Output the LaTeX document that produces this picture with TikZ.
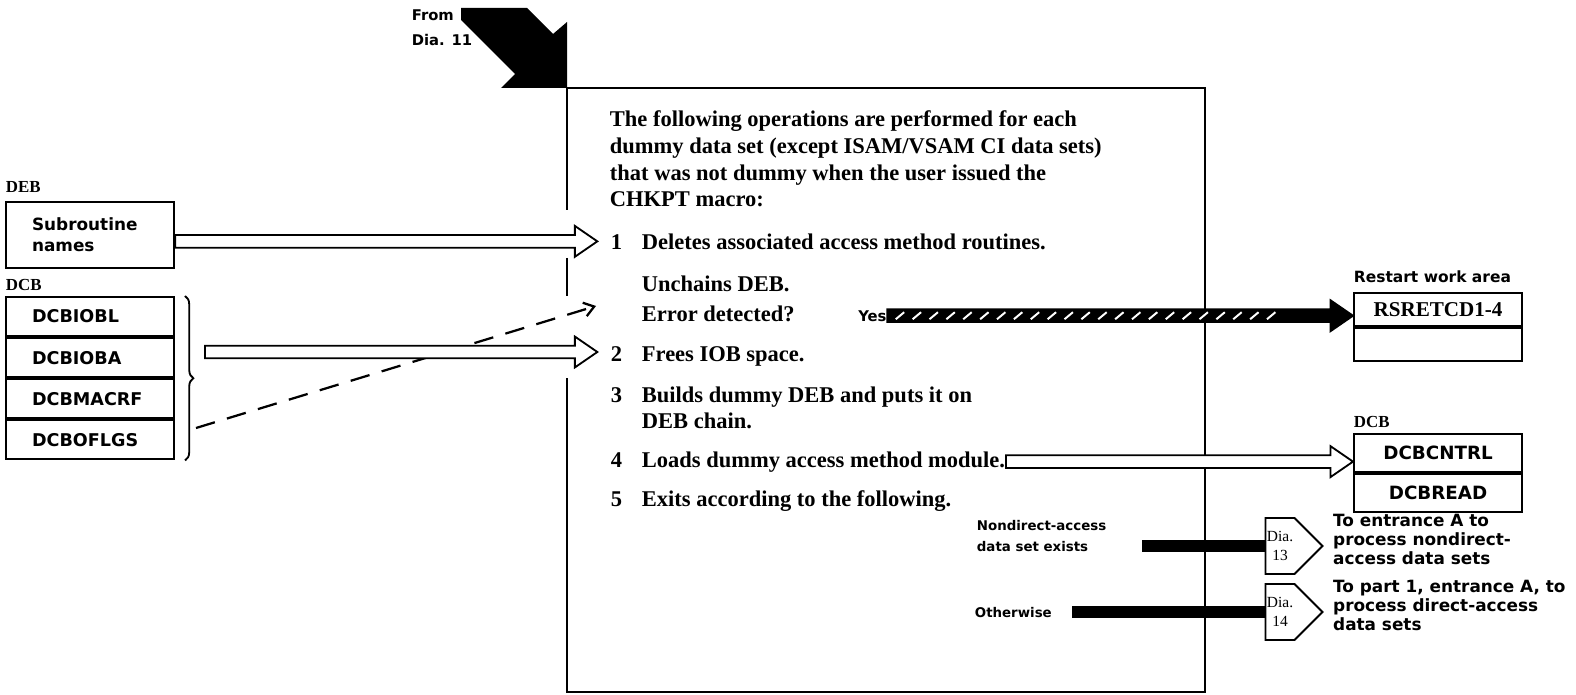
\documentclass[tikz,border=0pt]{standalone}
\usepackage{fontspec}
\setmainfont{Liberation Serif}
\setsansfont{DejaVu Sans}
\usetikzlibrary{arrows.meta, positioning, calc, shapes.symbols, decorations.pathreplacing}

% horizontal block arrow from #2 to #3
\newcommand{\blockarrow}[3][fill=white]{%
  \draw[line width=1.3pt, line join=miter, #1] let \p1=(#2), \p2=(#3) in
    (\x1,\y1+4.5pt) -- (\x2-16pt,\y1+4.5pt) -- (\x2-16pt,\y1+11pt) -- (\x2,\y1)
    -- (\x2-16pt,\y1-11pt) -- (\x2-16pt,\y1-4.5pt) -- (\x1,\y1-4.5pt) -- cycle;}

\begin{document}
\begin{tikzpicture}[
    x=0.025cm, y=-0.025cm, line width=1.3pt,
    boxtext/.style={font=\bfseries\fontsize{16}{19.1}\selectfont, inner sep=0pt, anchor=base west},
    hdr/.style={font=\bfseries\fontsize{12}{14}\selectfont, inner sep=0pt, anchor=base west},
    lbl/.style={font=\sffamily\bfseries\fontsize{9.5}{15}\selectfont, inner sep=0pt, align=left},
    field/.style={draw, line width=1.5pt, minimum width=4.2cm, minimum height=0.975cm,
                  inner sep=0pt, font=\sffamily\bfseries\fontsize{12.5}{15}\selectfont},
    lfield/.style={field, text width=2.9cm, align=left},
    exitbar/.style={line width=8.5pt},
    offpage/.style={signal, signal to=east, draw, fill=white, line width=1.3pt,
                    minimum width=1.3cm, minimum height=1.4cm, inner sep=1pt,
                    align=center, font=\fontsize{11}{14}\selectfont},
    totext/.style={lbl, anchor=north west, font=\sffamily\bfseries\fontsize{12}{13.5}\selectfont}
  ]
    \useasboundingbox (0,0) rectangle (1576,695);

    % entry from Dia. 11
    \node[lbl, anchor=north west, font=\sffamily\bfseries\fontsize{10.5}{17.5}\selectfont]
      (from) at (411,9) {From\\Dia. 11};
    \fill (567,88) -- ++(0,-66) -- ++(-14,12) -- ++(-26,-26) -- ++(-66,0)
      -- ++(0,12) -- ++(54,54) -- ++(-14,14) -- cycle;

    % process box
    \draw (567,210) -- (567,88) -- (1205,88) -- (1205,692) -- (567,692) -- (567,378);
    \draw (567,258) -- (567,296);

    \node[boxtext, align=left] (intro) at (609,207)
      {The following operations are performed for each\\
       dummy data set (except ISAM/VSAM CI data sets)\\
       that was not dummy when the user issued the\\
       CHKPT macro:};
    \node[boxtext] (n1) at (610,249) {1};
    \node[boxtext] (s1) at (641,249) {Deletes associated access method routines.};
    \node[boxtext] (s1b) at (641,291) {Unchains DEB.};
    \node[boxtext] (s1c) at (641,321) {Error detected?};
    \node[lbl, anchor=base west, font=\sffamily\bfseries\fontsize{10.5}{12}\selectfont]
      (yes) at ([xshift=44pt]s1c.base east) {Yes};
    \node[boxtext] (n2) at (610,361) {2};
    \node[boxtext] (s2) at (641,361) {Frees IOB space.};
    \node[boxtext] (n3) at (610,402) {3};
    \node[boxtext, align=left, font=\bfseries\fontsize{16}{18.4}\selectfont] (s3) at (641,428)
      {Builds dummy DEB and puts it on\\DEB chain.};
    \node[boxtext] (n4) at (610,467) {4};
    \node[boxtext] (s4) at (641,467) {Loads dummy access method module.};
    \node[boxtext] (n5) at (610,506) {5};
    \node[boxtext] (s5) at (641,506) {Exits according to the following.};

    % exits
    \node[lbl, anchor=north west] (cond1) at (976,519) {Nondirect-access\\data set exists};
    \node[lbl, anchor=west] (cond2) at (974,613) {Otherwise};
    \node[offpage] (dia13) at (1280,546) {Dia.\\13};
    \node[offpage] (dia14) at (1280,612) {Dia.\\14};
    \node[totext] (to13) at ([xshift=6pt, yshift=3pt]dia13.east |- dia13.north)
      {To entrance A to\\process nondirect-\\access data sets};
    \node[totext] (to14) at ([xshift=6pt, yshift=3pt]dia14.east |- dia14.north)
      {To part 1, entrance A, to\\process direct-access\\data sets};
    \coordinate (bar1) at (1142,546);
    \coordinate (bar2) at (1072,612);
    \draw[exitbar] (bar1) -- (dia13.west);
    \draw[exitbar] (bar2) -- (dia14.west);

    % input areas
    \node[hdr] (deblbl) at (5,193) {DEB};
    \node[lfield, anchor=north west, minimum height=1.65cm,
          font=\sffamily\bfseries\fontsize{12}{15}\selectfont] (deb) at (5,201) {Subroutine\\names};
    \node[hdr] (dcblbl) at (5,290) {DCB};
    \node[lfield, anchor=north west] (dcb1) at (5,296) {DCBIOBL};
    \node[lfield, below=0pt of dcb1] (dcb2) {DCBIOBA};
    \node[lfield, below=0pt of dcb2] (dcb3) {DCBMACRF};
    \node[lfield, below=0pt of dcb3] (dcb4) {DCBOFLGS};
    \draw[decorate, decoration={brace, amplitude=6pt}]
      ([xshift=7pt]dcb1.north east) -- ([xshift=7pt]dcb4.south east);
    \coordinate (dcbtail) at (205,352);
    \coordinate (dashtail) at (196,428);
    \coordinate (errtip) at (596,306);

    % output areas
    \node[lbl, anchor=base west, font=\sffamily\bfseries\fontsize{11}{14}\selectfont]
      (rswa) at (1353,283) {Restart work area};
    \node[field, anchor=north west, minimum height=0.825cm,
          font=\bfseries\fontsize{15}{18}\selectfont] (rs1) at (1353,292) {RSRETCD1-4};
    \node[field, below=0pt of rs1, minimum height=0.825cm] (rs2) {};
    \node[hdr] (dcbrlbl) at (1353,427) {DCB};
    \node[field, anchor=north west, minimum height=0.95cm, font=\sffamily\bfseries\fontsize{13}{15}\selectfont]
      (dc1) at (1353,433) {DCBCNTRL};
    \node[field, below=0pt of dc1, minimum height=0.95cm, font=\sffamily\bfseries\fontsize{13}{15}\selectfont]
      (dc2) {DCBREAD};

    % connectors
    \draw[dashed, dash pattern=on 14pt off 9pt, line width=1.6pt,
          -{Straight Barb[length=7pt, width=10pt]}] (dashtail) -- (errtip);
    \blockarrow{deb.east |- s1.west}{[xshift=-9pt]n1.west}
    \blockarrow{dcbtail}{[xshift=-9pt]n2.west}
    \blockarrow{s4.east}{dc1.west}
    \blockarrow[fill=black]{yes.east}{rs1.west}
    \foreach \k in {0,...,22}
      \draw[white, line width=1.4pt] let \p1=(yes.east) in
        (\x1+6pt+\k*12pt,\y1-2.5pt) -- ++(6pt,5pt);
\end{tikzpicture}
\end{document}
